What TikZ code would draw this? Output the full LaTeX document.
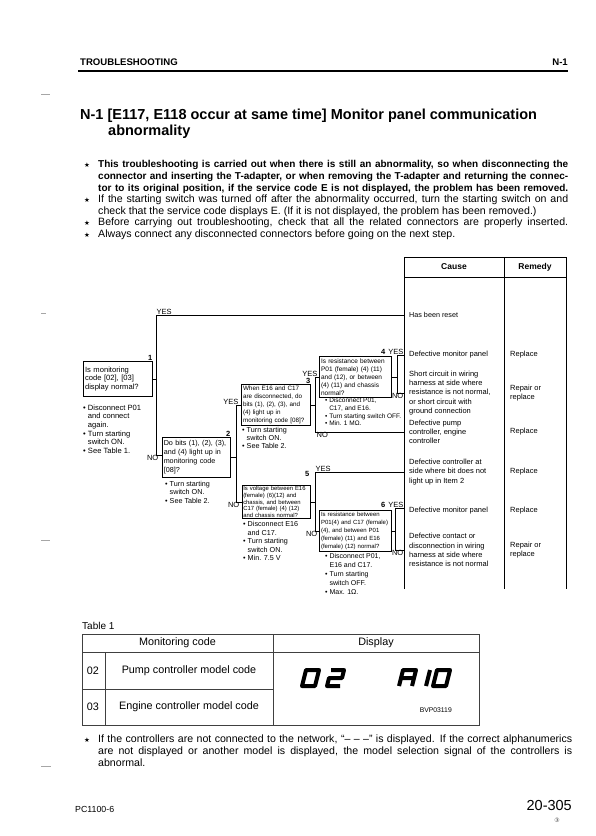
\documentclass[tikz,border=0pt]{standalone}
\usepackage{fontspec}
\setmainfont{Liberation Sans}
\newfontfamily\symfont{DejaVu Sans}
\usetikzlibrary{positioning,calc}

\newcommand{\fsz}[2]{\fontsize{#1}{#2}\selectfont}
\newcommand{\jline}[1]{\makebox[470pt][s]{#1}}
\newcommand{\hangb}{\hphantom{•\ }}
\newcommand{\bodyb}{\fsz{10}{12}\bfseries}
\newcommand{\bodyr}{\fsz{10.6}{12}}
\newcommand{\segat}[1]{%
  \coordinate (tl) at (#1+4,670);   \coordinate (tr) at (#1+17,670);
  \coordinate (ml) at (#1+2,678);   \coordinate (mr) at (#1+15,678);
  \coordinate (bl) at (#1,686);     \coordinate (br) at (#1+13,686);}

\begin{document}
\begin{tikzpicture}[x=1pt, y=-1pt,
    body/.style={inner sep=0pt, anchor=mid west},
    starmark/.style={inner sep=0pt, font=\symfont\fsz{6.5}{7}},
    qbox/.style={draw, line width=0.9pt, inner sep=1.6pt, align=left,
                 anchor=north west},
    note/.style={inner sep=0pt, align=left, anchor=north west},
    lbl/.style={inner sep=0.5pt, font=\fsz{7.5}{8}},
    num/.style={inner sep=0.5pt, font=\fsz{7.5}{8}\bfseries},
    wire/.style={line width=0.8pt},
    cause/.style={inner sep=0pt, align=left, anchor=west, font=\fsz{7.5}{9.2}},
    remedy/.style={inner sep=0pt, align=left, anchor=west, font=\fsz{7.5}{9}},
    tline/.style={line width=0.6pt, black!75},
    cell/.style={inner sep=0pt, font=\fsz{10.8}{12}},
    seg/.style={line width=4pt, line join=round},
  ]
  \fill[white] (0,0) rectangle (595,836);
  \useasboundingbox (0,0) rectangle (595,836);

  % page head
  \node[body, font=\fsz{9.6}{10}\bfseries] (head) at (80,63) {TROUBLESHOOTING};
  \node[inner sep=0pt, anchor=mid east, font=\fsz{9.6}{10}\bfseries] (headr) at (568,63) {N-1};
  \draw[line width=1.3pt] (78,71) -- (568,71);
  \foreach \y/\l in {94/9, 313/5, 540/9, 766/10}
    \draw[black!35, line width=0.6pt] (41,\y) -- ++(\l,0);

  \node[body, font=\fsz{14.5}{16}\bfseries] (title) at (80,117)
    {N-1 [E117, E118 occur at same time] Monitor panel communication};
  \node[body, font=\fsz{14.5}{16}\bfseries] (title2) at (108,133) {abnormality};

  % notes
  \foreach \y in {165,200,223,235} \node[starmark] at (87,\y) {★};
  \node[body, font=\bodyb] (p1a) at (98,165) {\jline{This troubleshooting is carried out when there is still an abnormality, so when disconnecting the}};
  \node[body, font=\bodyb] (p1b) at (98,177) {\jline{connector and inserting the T-adapter, or when removing the T-adapter and returning the connec-}};
  \node[body, font=\bodyb] (p1c) at (98,188.5) {\jline{tor to its original position, if the service code E is not displayed, the problem has been removed.}};
  \node[body, font=\bodyr] (p2a) at (98,200) {\jline{If the starting switch was turned off after the abnormality occurred, turn the starting switch on and}};
  \node[body, font=\bodyr] (p2b) at (98,211.5) {check that the service code displays E. (If it is not displayed, the problem has been removed.)};
  \node[body, font=\bodyr] (p3) at (98,223) {\jline{Before carrying out troubleshooting, check that all the related connectors are properly inserted.}};
  \node[body, font=\bodyr] (p4) at (98,235) {Always connect any disconnected connectors before going on the next step.};

  % cause / remedy table
  \draw[wire] (404,589) -- (404,257) -- (566,257) -- (566,589);
  \draw[wire] (404,277) -- (566,277);
  \draw[wire] (504,257) -- (504,589);
  \node[font=\fsz{8.5}{9}\bfseries] (hcause) at (454,267) {Cause};
  \node[font=\fsz{8.5}{9}\bfseries] (hrem) at (535,267) {Remedy};

  \coordinate (c1) at (404,315);
  \coordinate (c2) at (404,355);
  \coordinate (c3) at (404,393);
  \coordinate (c4) at (404,432);
  \coordinate (c5) at (404,472);
  \coordinate (c6) at (404,508);
  \coordinate (c7) at (404,550);
  \coordinate (rx) at (510,0);

  \node[cause, font=\fsz{7.2}{8}, right=5pt of c1] (r1) {Has been reset};
  \node[cause, right=5pt of c2] (r2) {Defective monitor panel};
  \node[cause, right=5pt of c3] (r3) {Short circuit in wiring\\harness at side where\\resistance is not normal,\\or short circuit with\\ground connection};
  \node[cause, right=5pt of c4] (r4) {Defective pump\\controller, engine\\controller};
  \node[cause, right=5pt of c5] (r5) {Defective controller at\\side where bit does not\\light up in Item 2};
  \node[cause, right=5pt of c6, yshift=-3pt] (r6) {Defective monitor panel};
  \node[cause, right=5pt of c7] (r7) {Defective contact or\\disconnection in wiring\\harness at side where\\resistance is not normal};

  \node[remedy] (m2) at (c2 -| rx) {Replace};
  \node[remedy] (m3) at (c3 -| rx) {Repair or\\replace};
  \node[remedy] (m4) at (c4 -| rx) {Replace};
  \node[remedy] (m5) at (c5 -| rx) {Replace};
  \node[remedy, yshift=-3pt] (m6) at (c6 -| rx) {Replace};
  \node[remedy] (m7) at (c7 -| rx) {Repair or\\replace};

  % question boxes
  \node[qbox, text width=65.8pt, minimum height=35pt, font=\fsz{7.6}{8.6}] (q1) at (83,361)
    {Is monitoring\\code [02], [03]\\display normal?};
  \node[qbox, text width=65.4pt, minimum height=40pt, inner sep=1.3pt, font=\fsz{7.2}{9}] (q2) at (162,437)
    {Do bits (1), (2), (3),\\and (4) light up in\\monitoring code\\{[08]?}};
  \node[qbox, text width=65.8pt, minimum height=40pt, font=\fsz{6.3}{8}] (q3) at (241,384)
    {When E16 and C17\\are disconnected, do\\bits (1), (2), (3), and\\(4) light up in\\monitoring code [08]?};
  \node[qbox, text width=68.8pt, minimum height=41pt, font=\fsz{6.5}{8}] (q4) at (319,356)
    {Is resistance between\\P01 (female) (4) (11)\\and (12), or between\\(4) (11) and chassis\\normal?};
  \node[qbox, text width=66.4pt, minimum height=33pt, inner sep=0.8pt, font=\fsz{5.9}{6.6}] (q5) at (242,485)
    {Is voltage between E16\\(female) (6)(12) and\\chassis, and between\\C17 (female) (4) (12)\\and chassis normal?};
  \node[qbox, text width=68.8pt, minimum height=41pt, font=\fsz{6}{8}] (q6) at (319,510)
    {Is resistance between\\P01(4) and C17 (female)\\(4), and between P01\\(female) (11) and E16\\(female) (12) normal?};

  \node[num, anchor=south east] at (q1.north east) {1};
  \node[num, anchor=south east] at (q2.north east) {2};
  \node[num, anchor=south east] at (q3.north east) {3};
  \node[num, anchor=mid east] at (310,474) {5};

  \node[note, font=\fsz{7.6}{8.6}] (n1) at (83,404.5)
    {• Disconnect P01\\\hangb and connect\\\hangb again.\\• Turn starting\\\hangb switch ON.\\• See Table 1.};
  \node[note, font=\fsz{7.2}{8.5}] (n2) at (165,481)
    {• Turn starting\\\hangb switch ON.\\• See Table 2.};
  \node[note, font=\fsz{7.2}{8.2}] (n3) at (242,427)
    {• Turn starting\\\hangb switch ON.\\• See Table 2.};
  \node[note, font=\fsz{6.5}{7.6}] (n4) at (325,398)
    {• Disconnect P01,\\\hangb C17, and E16.\\• Turn starting switch OFF.\\• Min. 1 MΩ.};
  \node[note, font=\fsz{7.2}{8.6}] (n5) at (243,521)
    {• Disconnect E16\\\hangb and C17.\\• Turn starting\\\hangb switch ON.\\• Min. 7.5 V};
  \node[note, font=\fsz{7}{9}] (n6) at (325,553.5)
    {• Disconnect P01,\\\hangb E16 and C17.\\• Turn starting\\\hangb switch OFF.\\• Max. 1Ω.};

  % connectors
  \coordinate (j1t) at (156,315);
  \coordinate (j1b) at (156,455);
  \coordinate (j2x) at (236,0);
  \coordinate (j3x) at (315,0);
  \coordinate (j4x) at (397,0);
  \coordinate (j6x) at (395,0);

  \draw[wire] (c1) -- (j1t) -- (j1b) -- (j1b -| q2.west);
  \draw[wire] (q1.east) -- (q1.east -| j1t);
  \draw[wire] (q3.west) -- (q3.west -| j2x) -- (q5.west -| j2x) -- (q5.west);
  \draw[wire] (q2.east) -- (q2.east -| j2x);
  \draw[wire] (q4.west) -- (q4.west -| j3x) -- (c4 -| j3x) -- (c4);
  \draw[wire] (q3.east) -- (q3.east -| j3x);
  \draw[wire] (c2) -- (c2 -| j4x) -- (c3 -| j4x) -- (c3);
  \draw[wire] (q4.east) -- (q4.east -| j4x);
  \draw[wire] (c5) -- (c5 -| j3x) -- (q6.west -| j3x) -- (q6.west);
  \draw[wire] (q5.east) -- (q5.east -| j3x);
  \draw[wire] (c6) -- (c6 -| j6x) -- (c7 -| j6x) -- (c7);
  \draw[wire] (q6.east) -- (q6.east -| j6x);

  \node[lbl, anchor=south west] (y1) at (j1t) {YES};
  \node[lbl, anchor=north east, xshift=3pt] (no1) at (j1b) {NO};
  \node[lbl, anchor=south east, xshift=3pt] (y2) at (q3.west -| j2x) {YES};
  \node[lbl, anchor=north east, xshift=4pt] (no2) at (q5.west -| j2x) {NO};
  \node[lbl, anchor=south east, xshift=3pt] (y3) at (q4.west -| j3x) {YES};
  \node[lbl, anchor=north west, xshift=1pt] (no3) at (c4 -| j3x) {NO};
  \node[lbl, anchor=south east] (y4) at (c2) {YES};
  \node[num, left=1.5pt of y4] {4};
  \node[lbl, anchor=north east] (no4) at (c3) {NO};
  \node[lbl, anchor=south west] (y5) at (c5 -| j3x) {YES};
  \node[lbl, anchor=north east, xshift=3pt] (no5) at (q6.west -| j3x) {NO};
  \node[lbl, anchor=south east] (y6) at (c6) {YES};
  \node[num, left=1.5pt of y6] {6};
  \node[lbl, anchor=north east] (no6) at (c7) {NO};

  % table 1
  \node[body, font=\fsz{10}{11}] (t1) at (82,627) {Table 1};
  \draw[tline] (82,634) rectangle (479,725);
  \draw[tline] (82,652) -- (479,652);
  \draw[tline] (273,634) -- (273,725);
  \draw[tline] (105,652) -- (105,725);
  \draw[tline] (82,689) -- (273,689);
  \node[cell] (hmon) at (177.5,643) {Monitoring code};
  \node[cell] (hdis) at (376,643) {Display};
  \node[cell] (k02) at (93,670.5) {02};
  \node[cell] (d02) at (189,670.5) {Pump controller model code};
  \node[cell] (k03) at (93,707) {03};
  \node[cell] (d03) at (189,707) {Engine controller model code};

  \segat{302} \draw[seg] (tl) -- (tr) -- (br) -- (bl) -- cycle;
  \segat{327} \draw[seg] (tl) -- (tr) -- (mr) -- (ml) -- (bl) -- (br);
  \segat{399} \draw[seg] (bl) -- (tl) -- (tr) -- (br) (ml) -- (mr);
  \segat{413} \draw[seg] (tr) -- (br);
  \segat{433} \draw[seg] (tl) -- (tr) -- (br) -- (bl) -- cycle;
  \node[inner sep=0pt, anchor=mid east, font=\fsz{6.8}{7}] (fig) at (452,710) {BVP03119};

  \node[starmark] at (87,740) {★};
  \node[body, font=\bodyr] (p5a) at (98,740) {\makebox[474pt][s]{If the controllers are not connected to the network, “– – –” is displayed. If the correct alphanumerics}};
  \node[body, font=\bodyr] (p5b) at (98,752) {\makebox[474pt][s]{are not displayed or another model is displayed, the model selection signal of the controllers is}};
  \node[body, font=\bodyr] (p5c) at (98,764) {abnormal.};

  % page foot
  \node[body, font=\fsz{8.8}{9}] (foot) at (75,810) {PC1100-6};
  \node[inner sep=0pt, anchor=mid east, font=\fsz{14.5}{15}] (page) at (572,808) {20-305};
  \node[inner sep=0pt, font=\symfont\fsz{6}{6}, text=black!70] (rev) at (557,820) {③};
\end{tikzpicture}
\end{document}
